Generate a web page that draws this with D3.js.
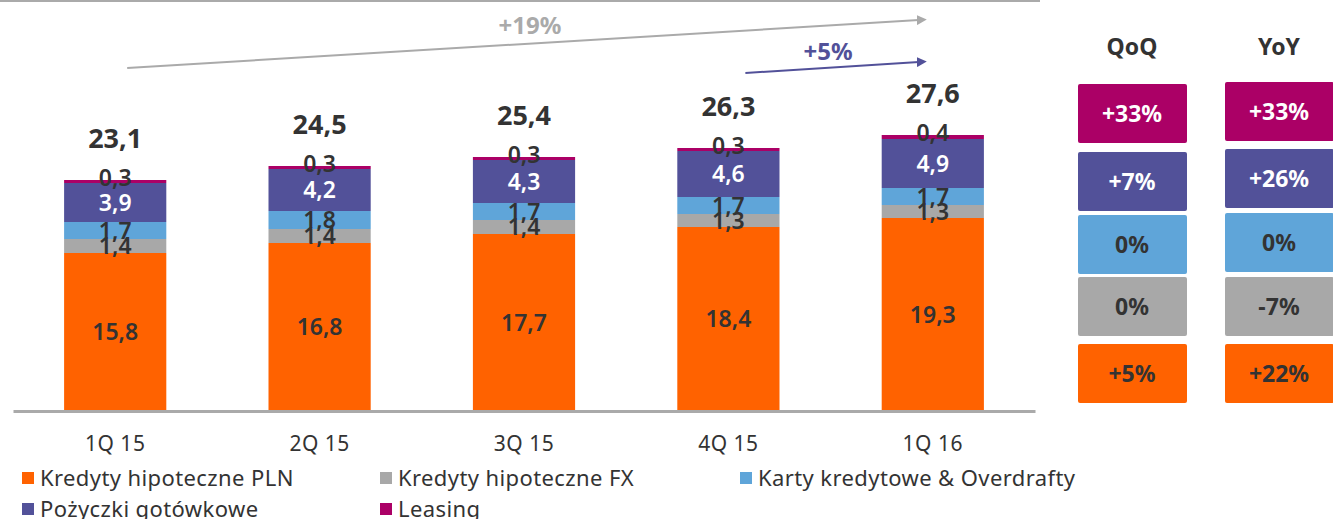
<!DOCTYPE html>
<html lang="pl">
<head>
<meta charset="utf-8">
<title>Kredyty detaliczne</title>
<script src="https://cdn.jsdelivr.net/npm/d3@7"></script>
<style>
  body { margin: 0; background: #fff; }
  svg text { font-family: "Noto Sans", sans-serif; fill: #333; }
  .axis path { stroke: #aaa; stroke-width: 3; }
  .axis text { font-size: 21px; fill: #333; letter-spacing: 0.5px; }
  .seg-label { font-size: 23px; font-weight: 600; text-anchor: middle; }
  .total-label { font-size: 27px; font-weight: 700; text-anchor: middle; }
  .legend text { font-size: 22px; letter-spacing: 0.4px; }
  .box-label { font-size: 23px; font-weight: 700; text-anchor: middle; }
  .head { font-size: 23px; font-weight: 700; text-anchor: middle; }
</style>
</head>
<body>
<svg width="1333" height="519"></svg>
<script>
// data
var quarters = ["1Q 15", "2Q 15", "3Q 15", "4Q 15", "1Q 16"];
var seriesNames = ["Kredyty hipoteczne PLN", "Kredyty hipoteczne FX", "Karty kredytowe & Overdrafty", "Pożyczki gotówkowe", "Leasing"];
var hipotecznePLN = [15.8, 16.8, 17.7, 18.4, 19.3];
var hipoteczneFX = [1.4, 1.4, 1.4, 1.3, 1.3];
var karty = [1.7, 1.8, 1.7, 1.7, 1.7];
var pozyczki = [3.9, 4.2, 4.3, 4.6, 4.9];
var leasing = [0.3, 0.3, 0.3, 0.3, 0.4];
var totals = [23.1, 24.5, 25.4, 26.3, 27.6];
var colors = ["#ff6200", "#a8a8a8", "#5fa5d9", "#525199", "#ab0066"];
var labelColors = ["#333", "#333", "#333", "#fff", "#333"];
var qoq = ["+5%", "0%", "0%", "+7%", "+33%"];
var yoy = ["+22%", "-7%", "0%", "+26%", "+33%"];
var growthAll = "+19%";
var growthQ = "+5%";

var svg = d3.select("svg");
var fmt = function(v) { return d3.format(".1f")(v).replace(".", ","); };

var x = d3.scaleBand().domain(quarters).range([13, 1035]).paddingInner(0.5).paddingOuter(0.25);
var y = d3.scaleLinear().domain([0, 30]).range([411, 111]);

var table = quarters.map(function(q, i) {
  return { q: q, s0: hipotecznePLN[i], s1: hipoteczneFX[i], s2: karty[i], s3: pozyczki[i], s4: leasing[i] };
});
var keys = ["s0", "s1", "s2", "s3", "s4"];
var stacked = d3.stack().keys(keys)(table);

// top rule
svg.append("line").attr("x1", 0).attr("x2", 1040).attr("y1", 1).attr("y2", 1)
  .attr("stroke", "#aaa").attr("stroke-width", 2);

var layers = svg.selectAll(".layer").data(stacked).enter().append("g")
  .attr("class", "layer").attr("fill", function(d, i) { return colors[i]; });

layers.selectAll("rect").data(function(d) { return d; }).enter().append("rect")
  .attr("x", function(d) { return x(d.data.q); })
  .attr("width", x.bandwidth())
  .attr("y", function(d) { return y(d[1]); })
  .attr("height", function(d) { return y(d[0]) - y(d[1]); });

// axis
var axis = svg.append("g").attr("class", "axis")
  .attr("transform", "translate(0," + y(0) + ")")
  .call(d3.axisBottom(x).tickSize(0).tickPadding(25));

// segment labels
stacked.forEach(function(layer, li) {
  svg.selectAll(".lab" + li).data(layer).enter().append("text")
    .attr("class", "seg-label")
    .attr("x", function(d) { return x(d.data.q) + x.bandwidth() / 2; })
    .attr("y", function(d) { return (y(d[0]) + y(d[1])) / 2 + (li == 4 ? -4 : 0); })
    .attr("dy", "0.36em")
    .style("fill", labelColors[li])
    .text(function(d) { return fmt(d[1] - d[0]); });
});

// totals
svg.selectAll(".total-label").data(totals).enter().append("text")
  .attr("class", "total-label")
  .attr("x", function(d, i) { return x(quarters[i]) + x.bandwidth() / 2; })
  .attr("y", function(d) { return y(d) - 42; })
  .attr("dy", "0.36em")
  .text(fmt);

// growth arrows
var defs = svg.append("defs");
function marker(id, c) {
  defs.append("marker").attr("id", id).attr("viewBox", "0 0 10 10")
    .attr("refX", 2).attr("refY", 5).attr("markerWidth", 5).attr("markerHeight", 5)
    .attr("orient", "auto").attr("markerUnits", "strokeWidth")
    .append("path").attr("d", "M0,0L10,5L0,10Z").attr("fill", c);
}
marker("ag", "#aaa");
marker("ap", "#525199");
var xEnd = x(quarters[4]) + x.bandwidth() / 2 - 14;
svg.append("line").attr("x1", x(quarters[0]) + x.bandwidth() / 2 + 12).attr("y1", 68)
  .attr("x2", xEnd).attr("y2", 20).attr("stroke", "#aaa").attr("stroke-width", 2)
  .attr("marker-end", "url(#ag)");
svg.append("text").attr("x", 530).attr("y", 25).attr("dy", "0.36em")
  .attr("text-anchor", "middle").style("font-size", "24px").style("font-weight", 700)
  .style("fill", "#aaa").text(growthAll);
svg.append("line").attr("x1", x(quarters[3]) + x.bandwidth() / 2 + 17).attr("y1", 73)
  .attr("x2", xEnd).attr("y2", 62).attr("stroke", "#525199").attr("stroke-width", 2)
  .attr("marker-end", "url(#ap)");
svg.append("text").attr("x", 828).attr("y", 51).attr("dy", "0.36em")
  .attr("text-anchor", "middle").style("font-size", "24px").style("font-weight", 700)
  .style("fill", "#525199").text(growthQ);

// right table
var rowTop = [344, 277, 215, 152, 84];
var rowH = 59;
function column(vals, cx, head, shift) {
  svg.append("text").attr("class", "head").attr("x", cx).attr("y", 47).attr("dy", "0.36em").text(head);
  vals.forEach(function(v, i) {
    var top = rowTop[i] + (shift ? shift[i] : 0);
    svg.append("rect").attr("x", cx - 54).attr("y", top).attr("width", 109).attr("height", rowH)
      .attr("rx", 2).attr("fill", colors[i]);
    svg.append("text").attr("class", "box-label").attr("x", cx).attr("y", top + rowH / 2)
      .attr("dy", "0.36em").style("fill", labelColors[i] == "#fff" || i == 4 ? "#fff" : "#333")
      .text(v);
  });
}
column(qoq, 1132, "QoQ");
column(yoy, 1279, "YoY", [0, 0, -2, -3, -2]);

// legend
var legendPos = [[22, 478], [380, 478], [740, 478], [22, 509], [380, 509]];
var legend = svg.append("g").attr("class", "legend");
seriesNames.forEach(function(n, i) {
  var p = legendPos[i];
  legend.append("rect").attr("x", p[0]).attr("y", p[1] - 6).attr("width", 12).attr("height", 12)
    .attr("fill", colors[i]);
  legend.append("text").attr("x", p[0] + 18).attr("y", p[1]).attr("dy", "0.36em").text(n);
});
</script>
</body>
</html>
